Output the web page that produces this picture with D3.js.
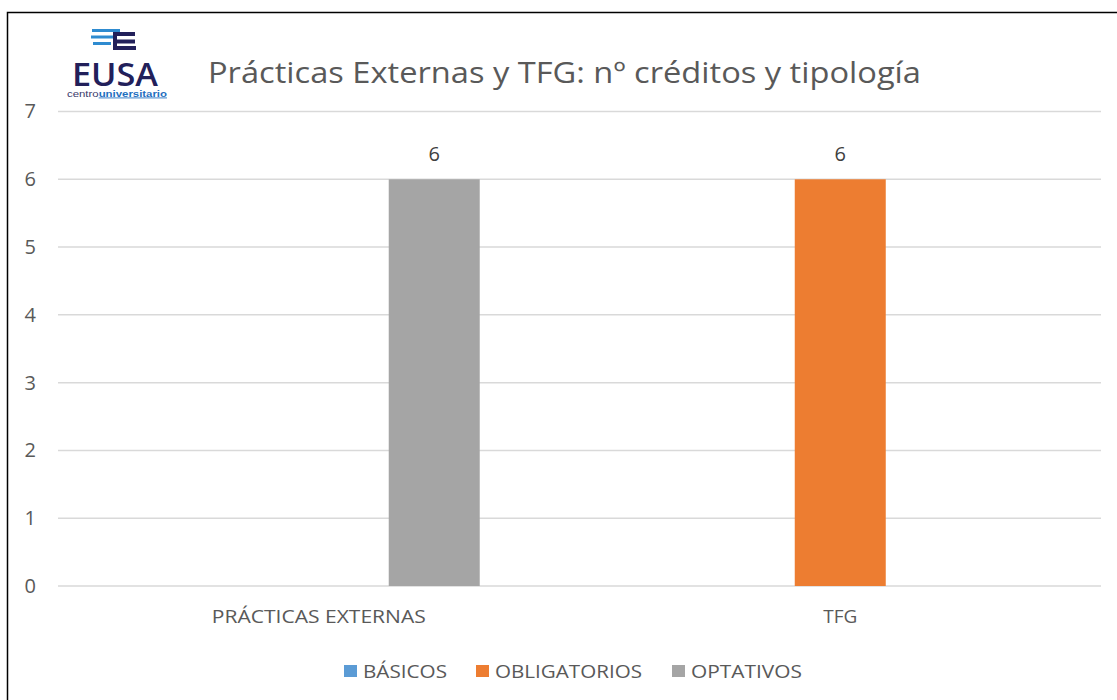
<!DOCTYPE html>
<html lang="es">
<head>
    <meta charset="utf-8">
    <title>Prácticas Externas y TFG</title>
    <script src="https://cdnjs.cloudflare.com/ajax/libs/d3/7.8.5/d3.min.js"></script>
    <style>
        body { margin: 0; background: #fff; }
        svg { display: block; font-family: "Open Sans", "Noto Sans", sans-serif; }
    </style>
</head>
<body>
    <svg id="chart"></svg>

    <script>
        // Data
        const categories = ['PRÁCTICAS EXTERNAS', 'TFG'];
        const series = ['BÁSICOS', 'OBLIGATORIOS', 'OPTATIVOS'];
        const basicos = [0, 0];
        const obligatorios = [0, 6];
        const optativos = [6, 0];
        const yTicks = [0, 1, 2, 3, 4, 5, 6, 7];
        const colors = ['#5b9bd5', '#ed7d31', '#a5a5a5'];

        const width = 1117;
        const height = 700;
        const margin = { top: 111.5, right: 16, bottom: 114, left: 58 };

        const svg = d3.select('#chart')
            .attr('width', width)
            .attr('height', height);

        // Outer frame
        svg.append('rect')
            .attr('x', 7.5).attr('y', 12.5)
            .attr('width', 1125).attr('height', 700)
            .attr('fill', 'none')
            .attr('stroke', '#000')
            .attr('stroke-width', 1.5);

        const rows = categories.map((c, i) => ({
            category: c,
            values: [basicos[i], obligatorios[i], optativos[i]]
        }));

        const x0 = d3.scaleBand()
            .domain(categories)
            .range([margin.left, width - margin.right]);

        const x1 = d3.scaleBand()
            .domain(series)
            .range([0, x0.bandwidth()])
            .paddingInner(0.212)
            .paddingOuter(0.864);

        const y = d3.scaleLinear()
            .domain([0, 7])
            .range([height - margin.bottom, margin.top]);

        // fit a text to a measured width (the reference text is wider than our fonts)
        function fit(sel, w) {
            sel.attr('textLength', w).attr('lengthAdjust', 'spacingAndGlyphs');
        }

        // Gridlines
        svg.append('g')
            .selectAll('line')
            .data(yTicks)
            .enter().append('line')
            .attr('x1', margin.left)
            .attr('x2', width - margin.right)
            .attr('y1', d => y(d))
            .attr('y2', d => y(d))
            .attr('stroke', '#d9d9d9')
            .attr('stroke-width', 1.5);

        // Y axis labels
        const yAxis = svg.append('g')
            .attr('transform', `translate(36,0)`)
            .call(d3.axisLeft(y).tickValues(yTicks).tickFormat(d3.format('d')).tickSize(0).tickPadding(0));
        yAxis.select('.domain').remove();
        yAxis.selectAll('text')
            .attr('text-anchor', 'end')
            .attr('fill', '#595959')
            .style('font-size', '20px')
            .style('font-family', '"Open Sans", sans-serif');

        // Bars
        const group = svg.append('g')
            .selectAll('g')
            .data(rows)
            .enter().append('g')
            .attr('transform', d => `translate(${x0(d.category)},0)`);

        group.selectAll('rect')
            .data(d => d.values.map((v, i) => ({ key: series[i], value: v, color: colors[i] })))
            .enter().append('rect')
            .attr('x', d => x1(d.key))
            .attr('width', x1.bandwidth())
            .attr('y', d => y(d.value))
            .attr('height', d => y(0) - y(d.value))
            .attr('fill', d => d.color);

        // Value labels (only non-zero bars show one)
        group.selectAll('text')
            .data(d => d.values.map((v, i) => ({ key: series[i], value: v })).filter(d => d.value > 0))
            .enter().append('text')
            .attr('x', d => x1(d.key) + x1.bandwidth() / 2)
            .attr('y', d => y(d.value) - 18)
            .attr('text-anchor', 'middle')
            .attr('fill', '#404040')
            .style('font-size', '20px')
            .text(d => d.value);

        // Category axis
        const catWidths = [214, 34];
        const xAxis = svg.append('g')
            .attr('transform', `translate(0,623)`)
            .call(d3.axisBottom(x0).tickSize(0).tickPadding(0));
        xAxis.select('.domain').remove();
        xAxis.selectAll('text')
            .attr('fill', '#595959')
            .attr('y', 0)
            .attr('dy', 0)
            .style('font-size', '17.5px')
            .style('font-family', '"Open Sans", sans-serif')
            .each(function (d, i) { fit(d3.select(this), catWidths[i]); });

        // Title
        svg.append('text')
            .attr('x', 208)
            .attr('y', 83)
            .attr('fill', '#595959')
            .style('font-size', '29.5px')
            .text('Prácticas Externas y TFG: nº créditos y tipología')
            .call(fit, 713);

        // Legend
        const legendX = [344, 476, 672];
        const legendW = [84, 147, 111];
        const legend = svg.append('g')
            .selectAll('g')
            .data(series)
            .enter().append('g')
            .attr('transform', (d, i) => `translate(${legendX[i]},665)`);
        legend.append('rect')
            .attr('width', 13).attr('height', 12)
            .attr('fill', (d, i) => colors[i]);
        legend.append('text')
            .attr('x', 19)
            .attr('y', 12.5)
            .attr('fill', '#595959')
            .style('font-size', '17.5px')
            .text(d => d)
            .each(function (d, i) { fit(d3.select(this), legendW[i]); });

        // EUSA logo
        const logo = svg.append('g');
        const stripes = [[92, 29, 28], [91, 35.5, 24], [93, 42, 18]];
        stripes.forEach(s => {
            logo.append('rect')
                .attr('x', s[0]).attr('y', s[1])
                .attr('width', s[2]).attr('height', 3)
                .attr('fill', '#2e8bd0');
        });
        const eBars = [[113, 32, 22], [116, 39.5, 19], [113, 46, 23]];
        eBars.forEach(s => {
            logo.append('rect')
                .attr('x', s[0]).attr('y', s[1])
                .attr('width', s[2]).attr('height', 4)
                .attr('fill', '#22205a');
        });
        logo.append('rect')
            .attr('x', 113).attr('y', 32).attr('width', 4).attr('height', 18)
            .attr('fill', '#22205a');
        logo.append('text')
            .attr('x', 72).attr('y', 86)
            .attr('fill', '#22205a')
            .style('font-size', '32px')
            .style('font-family', '"Open Sans", sans-serif')
            .style('font-weight', 600)
            .text('EUSA')
            .call(fit, 86);
        const sub = logo.append('text')
            .attr('x', 67).attr('y', 96.5)
            .style('font-size', '8.5px')
            .style('font-family', '"Liberation Sans", sans-serif')
            .call(fit, 100);
        sub.append('tspan').attr('fill', '#3a3a6a').text('centro');
        sub.append('tspan').attr('fill', '#1f6fc0').style('font-weight', 'bold')
            .style('text-decoration', 'underline').text('universitario');
    </script>
</body>
</html>
